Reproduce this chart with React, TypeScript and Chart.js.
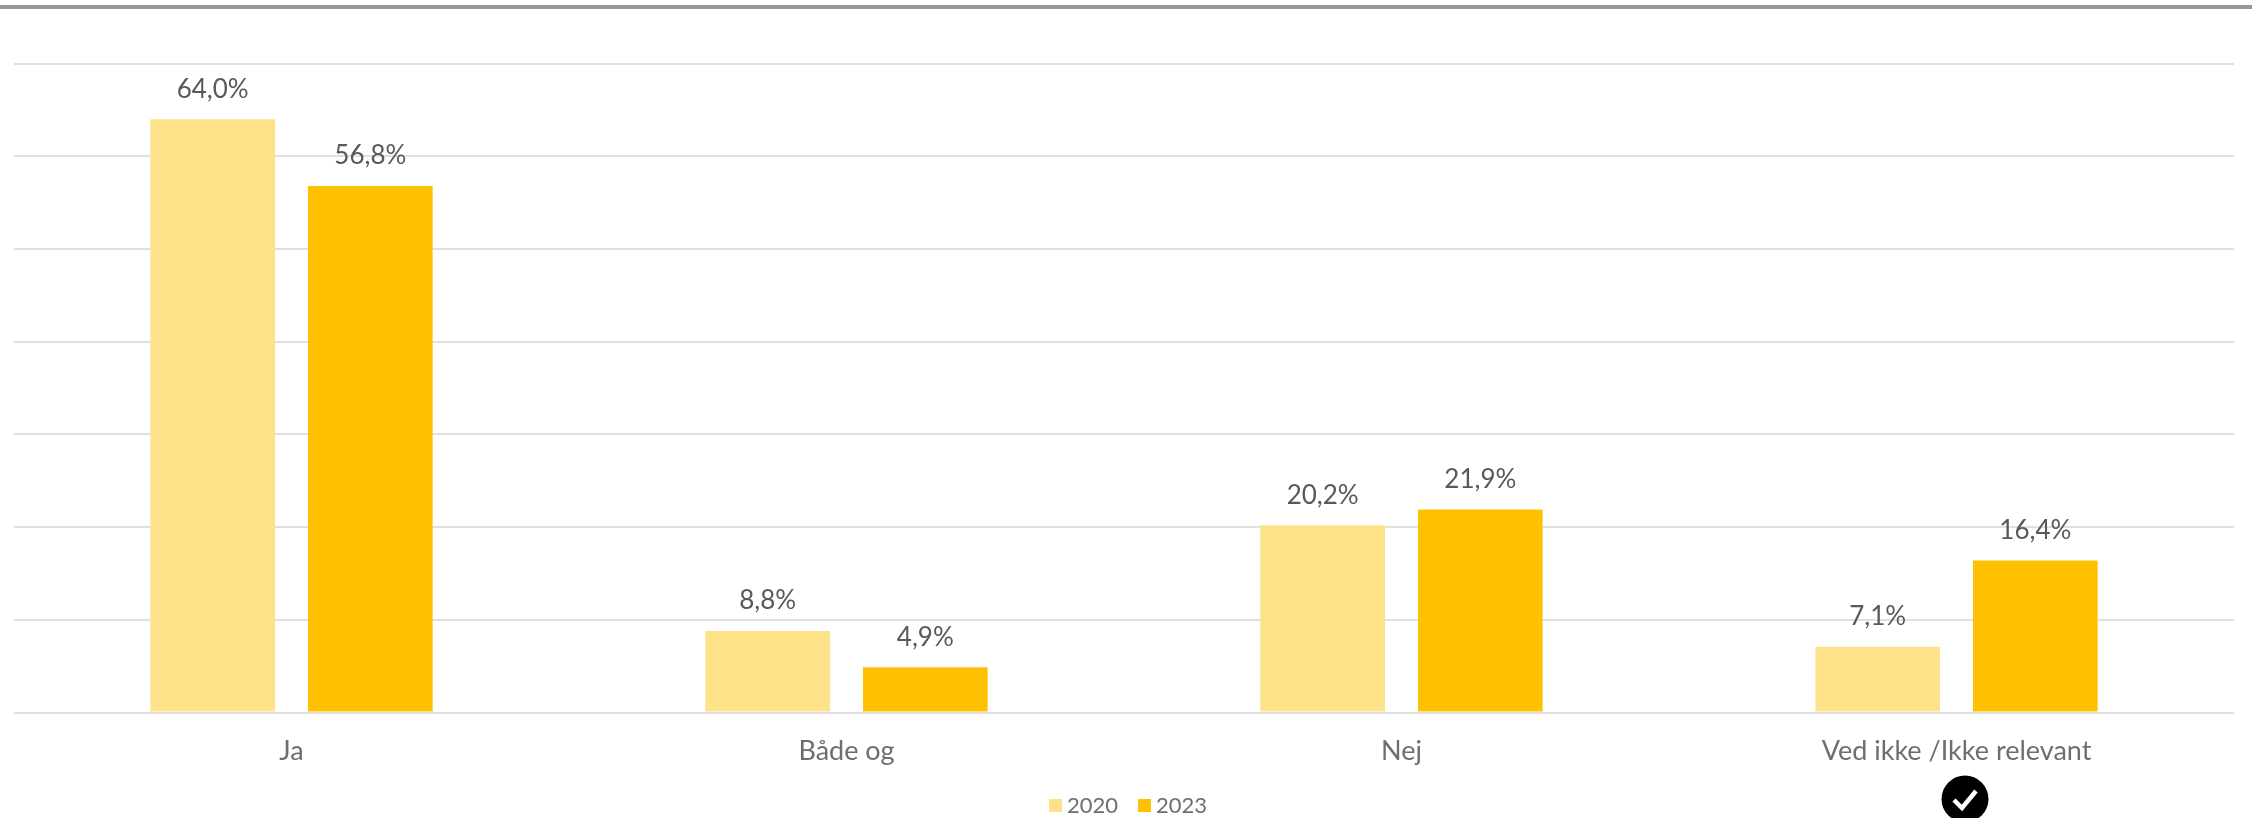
import React, { useEffect, useRef } from "react";
import { Chart, registerables } from "chart.js";

Chart.register(...registerables);

const categories = ["Ja", "Både og", "Nej", "Ved ikke /Ikke relevant"];
const series2020 = [64.0, 8.8, 20.2, 7.1];
const series2023 = [56.8, 4.9, 21.9, 16.4];
const seriesNames = ["2020", "2023"];
const FONT = "Lato, Carlito, sans-serif";

const dataLabels = {
  id: "dataLabels",
  afterDatasetsDraw(chart: any) {
    const { ctx } = chart;
    ctx.save();
    ctx.font = `26px ${FONT}`;
    ctx.fillStyle = "#595959";
    ctx.textAlign = "center";
    ctx.textBaseline = "middle";
    chart.data.datasets.forEach((ds: any, i: number) => {
      chart.getDatasetMeta(i).data.forEach((el: any, j: number) => {
        ctx.fillText(ds.data[j].toFixed(1).replace(".", ",") + "%", el.x, el.y - 30);
      });
    });
    ctx.restore();
  },
};

// Legend drawn from the datasets, so the swatch-to-text gap can be tighter than the built-in one.
const compactLegend = {
  id: "compactLegend",
  afterDraw(chart: any) {
    const { ctx } = chart;
    ctx.save();
    ctx.font = `22px ${FONT}`;
    ctx.textBaseline = "middle";
    ctx.textAlign = "left";
    chart.data.datasets.forEach((ds: any, i: number) => {
      const x = 1049 + i * 89;
      ctx.fillStyle = ds.backgroundColor;
      ctx.fillRect(x, 799, 13, 13);
      ctx.fillStyle = "#6E6E6E";
      ctx.fillText(ds.label, x + 18, 806);
    });
    ctx.restore();
  },
};

export default function App() {
  const ref = useRef<HTMLCanvasElement>(null);
  useEffect(() => {
    document.body.style.margin = "0";
    const chart = new Chart(ref.current!, {
      type: "bar",
      data: {
        labels: categories,
        datasets: [
          { label: seriesNames[0], data: series2020, backgroundColor: "#FEE28A" },
          { label: seriesNames[1], data: series2023, backgroundColor: "#FFC000" },
        ],
      },
      options: {
        responsive: false,
        animation: false,
        layout: { padding: { left: 14, right: 18, top: 63.5, bottom: 29 } },
        datasets: { bar: { categoryPercentage: 0.568, barPercentage: 0.791 } },
        scales: {
          x: {
            grid: { display: false, drawTicks: false },
            border: { display: false },
            ticks: { color: "#6E6E6E", font: { family: FONT, size: 27 }, padding: 22, maxRotation: 0 },
          },
          y: {
            min: 0,
            max: 70,
            grid: { color: "#E0E0E0", lineWidth: 2, drawTicks: false },
            border: { display: false },
            ticks: { display: false, stepSize: 10 },
          },
        },
        plugins: {
          tooltip: { enabled: false },
          legend: { display: false },
        },
      } as any,
      plugins: [dataLabels, compactLegend],
    });
    return () => chart.destroy();
  }, []);

  return (
    <div style={{ position: "relative", width: 2252, height: 818, overflow: "hidden", background: "#fff" }}>
      <canvas ref={ref} width={2252} height={818} style={{ display: "block" }} />
      <div style={{ position: "absolute", left: 0, top: 5, width: 2252, height: 4, background: "#979797" }} />
      <svg style={{ position: "absolute", left: 1941, top: 775 }} width={48} height={48} viewBox="0 0 48 48">
        <circle cx={24} cy={24} r={23.5} fill="#000" />
        <path d="M13 25 L21 33 L35 16" fill="none" stroke="#fff" strokeWidth={4.5} />
      </svg>
    </div>
  );
}
